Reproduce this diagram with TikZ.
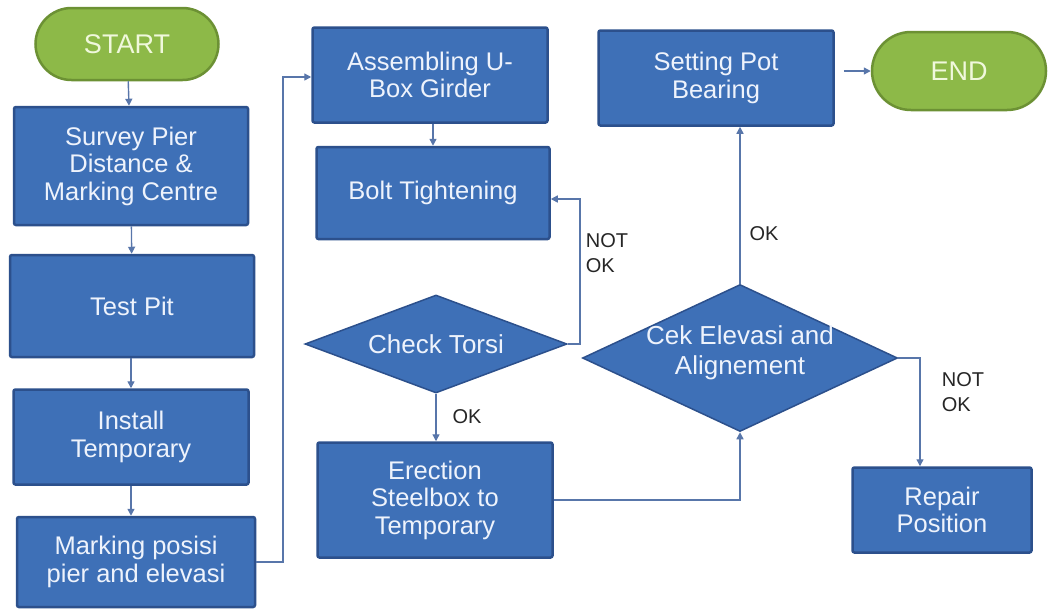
\documentclass[tikz,border=0pt]{standalone}
\usepackage{fontspec}
\setmainfont{Liberation Sans}
\usetikzlibrary{shapes.geometric,arrows.meta}
\definecolor{boxfill}{RGB}{62,112,183}
\definecolor{boxline}{RGB}{44,80,140}
\definecolor{grfill}{RGB}{141,185,72}
\definecolor{grline}{RGB}{108,145,52}
\definecolor{conn}{RGB}{88,118,170}
\definecolor{btext}{RGB}{238,243,252}
\definecolor{gtext}{RGB}{240,248,220}
\tikzset{
  procbox/.style={rectangle, rounded corners=2pt, draw=boxline, line width=2.5pt, fill=boxfill,
    text=btext, align=center, inner sep=0pt, font=\fontsize{25.5}{27.5}\selectfont},
  termbox/.style={rectangle, rounded corners=36pt, draw=grline, line width=2.5pt, fill=grfill,
    text=gtext, align=center, inner sep=0pt, font=\fontsize{27}{29}\selectfont},
  dia/.style={diamond, draw=boxline, line width=1.5pt, fill=boxfill, inner sep=0pt},
  dtext/.style={text=btext, align=center, inner sep=0pt, font=\fontsize{26}{30}\selectfont},
  lbl/.style={text=black!85, align=left, inner sep=0pt, font=\fontsize{20}{25}\selectfont},
  conline/.style={draw=conn, line width=1.4pt, -{Triangle[length=7pt,width=7pt]}},
}
\begin{document}
\begin{tikzpicture}[x=1pt, y=-1pt]
\useasboundingbox (0,0) rectangle (1052,611);
\fill[white] (0,0) rectangle (1052,611);
% left column
\node[termbox, minimum width=183, minimum height=72] (start) at (127,44) {START};
\node[procbox, minimum width=234, minimum height=118] (survey) at (131,166) {Survey Pier\\Distance \&\\Marking Centre};
\node[procbox, minimum width=244, minimum height=102] (testpit) at (132,306) {Test Pit};
\node[procbox, minimum width=235, minimum height=95] (install) at (131,437) {Install\\Temporary};
\node[procbox, minimum width=238, minimum height=90] (marking) at (136,562) {Marking posisi\\pier and elevasi};
% middle column
\node[procbox, minimum width=235, minimum height=95] (assemb) at (430,75) {Assembling U-\\Box Girder};
\node[procbox, minimum width=233, minimum height=92] (bolt) at (433,193) {Bolt Tightening};
\node[dia, minimum width=262, minimum height=98] (torsi) at (436,344) {};
\node[dtext] (torsitext) at (436,344) {Check Torsi};
\node[procbox, minimum width=235, minimum height=115] (erect) at (435,500) {Erection\\Steelbox to\\Temporary};
% right part
\node[procbox, minimum width=235, minimum height=95] (setting) at (716,78) {Setting Pot\\Bearing};
\node[termbox, minimum width=174, minimum height=78, rounded corners=39pt] (end) at (959,71) {END};
\node[dia, minimum width=315, minimum height=147] (cek) at (740,358) {};
\node[dtext] (cektext) at (740,353) {Cek Elevasi and\\Alignement};
\node[procbox, minimum width=179, minimum height=85] (repair) at (942,510) {Repair\\Position};
% connectors
\draw[conline] (start) -- (survey);
\draw[conline] (survey) -- (testpit);
\draw[conline] (testpit.south -| install.north) -- (install);
\draw[conline] (install) -- (install.south |- marking.north);
\coordinate (mk1) at (283,562);
\coordinate (mk2) at (283,77);
\draw[conline] (marking.east |- mk1) -- (mk1) -- (mk2) -- (assemb.west |- mk2);
\draw[conline] (assemb.south -| bolt.north) -- (bolt.north);
\coordinate (nt1) at (580,344);
\coordinate (nt2) at (580,199);
\draw[conline] (torsi.east) -- (nt1) -- (nt2) -- (bolt.east |- nt2);
\node[lbl] (notok1) at (607,253) {NOT\\OK};
\draw[conline] (torsi.south) -- (torsi.south |- erect.north);
\node[lbl] (ok1) at (467,417) {OK};
\coordinate (er1) at (740,500);
\draw[conline] (erect.east |- er1) -- (er1) -- (cek.south);
\draw[conline] (cek.north) -- (cek.north |- setting.south);
\node[lbl] (ok2) at (764,234) {OK};
\coordinate (cr1) at (920,358);
\draw[conline] (cek.east) -- (cr1) -- (cr1 |- repair.north);
\node[lbl] (notok2) at (963,392) {NOT\\OK};
\draw[conline, shorten <=9pt] (setting.east |- end.west) -- (end.west);
\end{tikzpicture}
\end{document}
